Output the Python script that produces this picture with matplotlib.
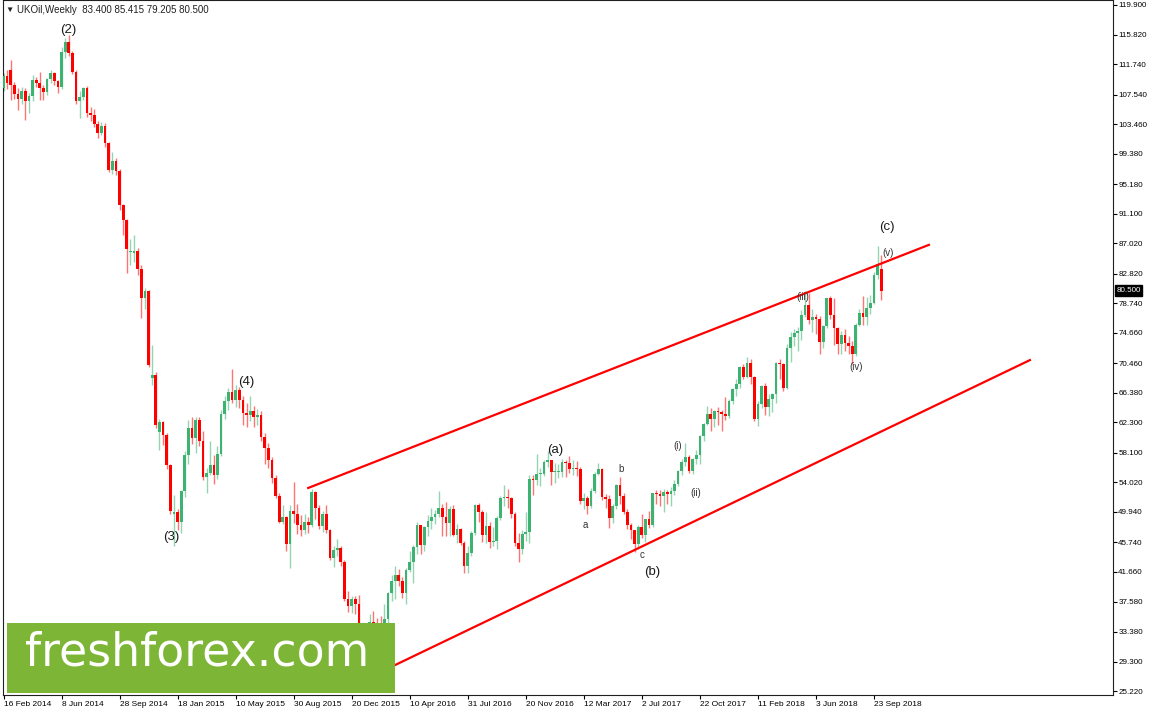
import pandas as pd
import matplotlib
matplotlib.use("Agg")
import matplotlib.pyplot as plt
from matplotlib.patches import Rectangle
from matplotlib.transforms import blended_transform_factory

# UKOil weekly candles, first bar = week of 16 Feb 2014
start_week = "2014-02-16"

opens = [
    108.4, 110.1, 110.9, 108.9, 107.6, 106.9, 108.1, 106.7, 107.3, 109.5,
    109.2, 108.5, 107.9, 109.7, 110.5, 109.4, 108.6, 113.4, 114.8, 113.3,
    110.6, 106.7, 107.2, 108.4, 105.0, 104.7, 103.5, 102.3, 103.2, 100.8,
    97.1, 98.4, 97.0, 92.3, 90.2, 85.8, 85.7, 86.0, 83.4, 79.4,
    80.4, 68.4, 68.9, 61.0, 62.3, 60.5, 56.4, 49.6, 50.0, 48.6,
    52.8, 57.8, 61.5, 60.2, 62.6, 59.7, 54.7, 55.3, 56.4, 55.0,
    57.9, 63.5, 65.3, 66.5, 65.4, 66.8, 65.4, 63.6, 63.3, 63.9,
    63.0, 63.3, 60.3, 58.7, 57.1, 54.6, 52.2, 48.6, 49.2, 45.5,
    50.1, 49.6, 48.1, 47.5, 48.6, 48.1, 52.7, 50.5, 48.0, 49.6,
    47.4, 43.6, 44.7, 44.9, 43.0, 37.9, 36.9, 37.9, 37.3, 33.6,
    28.9, 32.2, 34.7, 34.1, 33.4, 33.0, 35.1, 38.7, 40.4, 41.2,
    40.4, 38.7, 41.9, 43.1, 45.1, 48.1, 45.4, 47.8, 48.7, 49.3,
    49.6, 50.5, 49.2, 48.4, 50.4, 46.8, 47.6, 45.7, 42.5, 44.3,
    47.0, 50.9, 49.9, 46.8, 48.0, 45.8, 45.9, 49.1, 51.9, 52.0,
    51.8, 49.7, 45.6, 44.8, 46.9, 47.2, 54.5, 54.3, 55.2, 55.2,
    56.8, 57.1, 55.5, 55.5, 55.5, 56.8, 56.7, 55.8, 56.0, 55.9,
    51.4, 51.8, 50.8, 52.8, 55.2, 55.9, 52.0, 51.7, 49.1, 50.8,
    53.6, 52.2, 50.0, 48.2, 47.4, 45.5, 47.9, 46.7, 48.9, 48.1,
    52.5, 52.4, 52.1, 52.7, 52.4, 52.8, 53.8, 55.6, 56.9, 57.5,
    55.6, 57.2, 57.8, 60.4, 62.1, 63.5, 62.7, 63.9, 63.7, 63.4,
    63.2, 65.3, 66.9, 67.6, 69.9, 68.6, 70.5, 68.6, 62.8, 64.8,
    67.3, 64.4, 65.5, 66.2, 70.5, 70.3, 67.1, 72.6, 74.1, 74.6,
    74.9, 77.1, 78.5, 76.4, 76.8, 76.5, 73.4, 75.6, 79.4, 77.1,
    75.3, 73.1, 74.3, 73.2, 72.8, 71.8, 75.8, 77.4, 76.8, 78.1,
    78.8, 82.7, 83.4,
]

highs = [
    110.5, 110.9, 112.3, 109.3, 108.4, 108.6, 108.4, 107.8, 110.3, 110.0,
    110.6, 108.9, 109.8, 110.9, 110.6, 109.5, 114.1, 115.3, 115.8, 113.5,
    110.9, 108.0, 108.6, 108.7, 105.8, 105.5, 103.9, 103.7, 103.6, 101.0,
    99.6, 98.8, 97.3, 92.5, 90.4, 87.6, 88.1, 86.3, 84.0, 80.9,
    80.6, 73.0, 69.2, 62.8, 62.5, 60.8, 56.6, 52.3, 50.4, 53.0,
    58.3, 62.6, 63.0, 63.0, 63.0, 61.1, 56.0, 59.7, 57.8, 59.0,
    64.0, 65.9, 67.1, 69.6, 67.5, 67.2, 65.9, 65.0, 66.0, 64.5,
    64.2, 63.9, 60.8, 59.5, 57.5, 55.0, 52.5, 50.9, 49.4, 50.9,
    54.1, 51.0, 49.5, 49.6, 49.3, 53.1, 52.9, 50.9, 50.1, 50.9,
    47.6, 45.2, 46.2, 45.3, 43.3, 39.0, 38.4, 38.3, 38.5, 33.8,
    32.3, 35.8, 36.3, 35.3, 35.6, 37.2, 38.9, 41.2, 42.5, 42.0,
    41.0, 42.2, 44.6, 45.4, 48.5, 48.2, 48.0, 49.5, 50.5, 50.2,
    52.9, 51.0, 51.3, 50.7, 50.9, 48.3, 47.7, 46.0, 45.2, 47.3,
    51.0, 51.2, 50.2, 49.9, 48.5, 47.8, 49.4, 52.1, 53.7, 53.1,
    52.0, 50.0, 47.0, 47.4, 49.9, 55.0, 55.1, 57.9, 56.0, 57.1,
    58.4, 57.1, 56.7, 56.5, 57.2, 57.1, 57.7, 57.1, 57.0, 56.1,
    52.6, 52.1, 53.3, 55.5, 56.7, 56.0, 52.4, 52.3, 51.0, 53.8,
    54.7, 52.6, 50.4, 48.4, 47.5, 48.2, 49.7, 49.0, 50.1, 52.6,
    53.0, 53.0, 53.1, 53.0, 53.4, 54.4, 55.7, 57.3, 59.5, 57.8,
    57.4, 58.5, 60.5, 62.2, 64.6, 64.3, 64.0, 64.4, 64.0, 65.8,
    65.5, 67.1, 68.3, 70.1, 70.4, 71.3, 71.0, 68.7, 65.2, 67.5,
    67.7, 66.2, 66.4, 70.6, 71.0, 70.5, 73.1, 74.8, 75.2, 75.5,
    77.8, 80.5, 80.2, 77.9, 77.3, 77.0, 75.8, 79.5, 79.7, 79.4,
    75.4, 74.9, 75.2, 74.2, 73.5, 76.0, 78.0, 79.7, 79.6, 79.9,
    83.0, 86.7, 85.415,
]

lows = [
    108.0, 108.3, 106.8, 106.9, 105.4, 106.2, 104.0, 105.0, 106.6, 108.6,
    106.8, 106.8, 107.5, 109.2, 108.8, 107.8, 108.3, 112.6, 112.9, 110.4,
    106.2, 104.3, 106.8, 104.5, 103.9, 103.0, 101.5, 101.9, 100.3, 96.9,
    96.6, 96.5, 91.6, 88.2, 82.9, 84.0, 84.5, 82.6, 76.7, 78.0,
    69.9, 67.5, 61.5, 58.5, 59.2, 55.8, 49.7, 45.2, 47.4, 47.0,
    52.0, 56.5, 59.3, 58.1, 59.0, 54.4, 52.5, 55.0, 53.8, 54.5,
    57.6, 62.8, 64.0, 65.0, 64.4, 64.3, 61.9, 61.6, 62.5, 61.6,
    62.0, 59.8, 56.5, 56.0, 54.0, 51.9, 48.4, 48.3, 44.5, 42.2,
    48.4, 46.9, 46.6, 46.9, 47.1, 47.9, 48.9, 47.6, 47.2, 47.1,
    43.3, 42.4, 43.9, 42.5, 37.6, 36.2, 36.0, 35.9, 32.2, 28.8,
    27.1, 30.4, 32.0, 30.0, 31.6, 32.1, 34.6, 37.6, 37.9, 39.7,
    38.1, 37.2, 41.6, 40.1, 44.2, 44.1, 44.6, 46.6, 47.6, 48.3,
    49.2, 46.6, 46.6, 46.6, 46.6, 45.6, 45.4, 41.5, 41.5, 43.8,
    46.7, 48.5, 45.8, 45.6, 45.0, 45.2, 44.8, 48.8, 50.8, 50.5,
    49.1, 45.2, 43.0, 44.2, 45.9, 45.6, 52.3, 53.6, 53.5, 54.9,
    56.1, 53.6, 54.0, 54.6, 54.8, 54.7, 55.3, 55.1, 54.9, 51.1,
    50.3, 49.7, 50.5, 52.6, 55.0, 51.6, 50.5, 47.7, 48.4, 50.4,
    51.0, 49.6, 47.6, 46.2, 44.4, 44.8, 46.3, 45.8, 47.7, 47.9,
    51.1, 50.8, 49.9, 51.0, 50.7, 52.3, 53.5, 55.1, 56.3, 55.3,
    55.2, 56.5, 56.5, 59.8, 61.9, 61.1, 61.6, 61.9, 61.1, 62.6,
    62.9, 64.8, 65.9, 67.0, 68.3, 68.4, 67.6, 62.5, 61.8, 64.3,
    63.3, 63.2, 63.8, 65.0, 68.3, 66.6, 66.9, 70.7, 72.8, 72.2,
    73.7, 76.8, 75.9, 74.8, 74.5, 71.8, 72.5, 75.3, 76.6, 73.0,
    71.8, 71.8, 72.2, 71.7, 70.3, 71.4, 75.6, 75.8, 75.8, 77.3,
    78.6, 82.1, 79.205,
]

closes = [
    110.1, 109.1, 108.9, 107.6, 106.9, 108.1, 106.7, 107.3, 109.5, 109.2,
    108.5, 107.9, 109.7, 110.5, 109.4, 108.6, 113.4, 114.8, 113.3, 110.6,
    106.7, 107.2, 108.4, 105.0, 104.7, 103.5, 102.3, 103.2, 100.8, 97.1,
    98.4, 97.0, 92.3, 90.2, 86.2, 86.0, 86.0, 83.4, 79.4, 80.4,
    70.2, 68.9, 61.9, 62.3, 60.5, 56.4, 50.1, 50.0, 48.6, 52.8,
    57.8, 61.5, 60.2, 62.6, 59.7, 54.7, 55.3, 56.4, 55.0, 57.9,
    63.5, 65.3, 66.5, 65.4, 66.8, 65.4, 63.6, 63.3, 63.9, 63.0,
    63.3, 60.3, 58.7, 57.1, 54.6, 52.2, 48.6, 49.2, 45.5, 50.1,
    49.6, 48.1, 47.5, 48.6, 48.1, 52.7, 50.5, 48.0, 49.6, 47.4,
    43.6, 44.7, 44.9, 43.0, 37.9, 36.9, 37.9, 37.3, 33.6, 28.9,
    32.2, 34.7, 34.1, 33.4, 33.0, 35.1, 38.7, 40.4, 41.2, 40.4,
    38.7, 41.9, 43.1, 45.1, 48.1, 45.4, 47.8, 48.7, 49.3, 49.6,
    50.5, 49.2, 48.4, 50.4, 46.8, 47.6, 45.7, 42.5, 44.3, 47.0,
    50.9, 49.9, 46.8, 48.0, 45.8, 45.9, 49.1, 51.9, 52.0, 51.8,
    49.7, 45.6, 44.8, 46.9, 47.2, 54.5, 54.3, 55.2, 55.2, 56.8,
    57.1, 55.5, 55.5, 55.5, 56.8, 56.7, 55.8, 56.0, 55.9, 51.4,
    51.8, 50.8, 52.8, 55.2, 55.9, 52.0, 51.7, 49.1, 50.8, 53.6,
    52.2, 50.0, 48.2, 47.4, 45.5, 47.9, 46.7, 48.9, 48.1, 52.5,
    52.4, 52.1, 52.7, 52.4, 52.8, 53.8, 55.6, 56.9, 57.5, 55.6,
    57.2, 57.8, 60.4, 62.1, 63.5, 62.7, 63.9, 63.7, 63.4, 63.2,
    65.3, 66.9, 67.6, 69.9, 68.6, 70.5, 68.6, 62.8, 64.8, 67.3,
    64.4, 65.5, 66.2, 70.5, 70.3, 67.1, 72.6, 74.1, 74.6, 74.9,
    77.1, 78.5, 76.4, 76.8, 76.5, 73.4, 75.6, 79.4, 77.1, 75.3,
    73.1, 74.3, 73.2, 72.8, 71.8, 75.8, 77.4, 76.8, 78.1, 78.8,
    82.7, 84.2, 80.5,
]

price_ticks = [119.900, 115.820, 111.740, 107.540, 103.460, 99.380, 95.180,
               91.100, 87.020, 82.820, 78.740, 74.660, 70.460, 66.380,
               62.300, 58.100, 54.020, 49.940, 45.740, 41.660, 37.580,
               33.380, 29.300, 25.220]
date_tick_step = 16

# trendlines (anchor date, price)
upper_dates = ["2015-09-27", "2019-01-07"]
upper_prices = [53.25, 86.8]
lower_dates = ["2016-01-17", "2019-07-21"]
lower_prices = [26.9, 70.9]

# Elliott wave labels: text, bar position, price, big label?
wave_text = ["(2)", "(3)", "(4)", "(a)", "a", "b", "c", "(b)",
             "(i)", "(ii)", "(iii)", "(iv)", "(v)", "(c)"]
wave_bar = [17.8, 46.2, 66.9, 152.1, 160.3, 170.2, 176.0, 178.8,
            186.0, 190.9, 220.4, 235.0, 243.9, 243.6]
wave_price = [116.4, 46.5, 67.9, 58.5, 48.1, 55.9, 44.0, 41.7,
              59.0, 52.6, 79.6, 69.9, 85.7, 89.3]
wave_big = [True, True, True, True, False, False, False, True,
            False, False, False, False, False, True]

header = "UKOil,Weekly  83.400 85.415 79.205 80.500"
last_price = 80.5

plt.rcParams["font.family"] = ["Liberation Sans", "DejaVu Sans"]

weeks = pd.date_range(start_week, periods=len(closes), freq="7D")
bars = list(range(len(closes)))
t0 = pd.Timestamp(start_week)


def to_bar(d):
    return (pd.Timestamp(d) - t0).days / 7.0


fig = plt.figure(figsize=(11.49, 7.15), dpi=100)
ax = fig.add_axes([3 / 1149, 20 / 715, 1110 / 1149, 695 / 715])

# candles
colors = ["#3cb371" if c >= o else "#ff0000" for o, c in zip(opens, closes)]
ax.vlines(bars, lows, highs, colors=colors, linewidth=1.0, alpha=0.55, zorder=2)
bottoms = [min(o, c) for o, c in zip(opens, closes)]
heights = [max(abs(c - o), 0.15) for o, c in zip(opens, closes)]
ax.bar(bars, heights, bottom=bottoms, width=0.75, color=colors, linewidth=0, zorder=3)

# channel lines
ax.plot([to_bar(d) for d in upper_dates], upper_prices, color="#ff0000", lw=1.6, zorder=4)
ax.plot([to_bar(d) for d in lower_dates], lower_prices, color="#ff0000", lw=1.6, zorder=4)

# wave labels
for txt, b, p, big in zip(wave_text, wave_bar, wave_price, wave_big):
    ax.text(b, p, txt, ha="center", va="center", fontsize=9.5 if big else 7,
            color="#1a1a1a" if big else "#333333", zorder=6)

ax.set_xlim(-0.14, 305.9)
ax.set_ylim(24.68, 120.59)

# axes like MT4
ax.yaxis.tick_right()
ax.set_yticks(price_ticks)
ax.set_yticklabels([f"{v:.3f}" for v in price_ticks])
ax.tick_params(axis="y", length=3, pad=0.8, labelsize=5.8, width=0.8)
xt = bars[::date_tick_step]
ax.set_xticks(xt)
ax.set_xticklabels([f"{weeks[i].day} {weeks[i].strftime('%b %Y')}" for i in xt])
for lbl in ax.get_xticklabels():
    lbl.set_ha("left")
ax.tick_params(axis="x", length=3, pad=1.5, labelsize=6, width=0.8)
for s in ax.spines.values():
    s.set_linewidth(0.8)
    s.set_color("#202020")

# current price marker
trans = blended_transform_factory(ax.transAxes, ax.transData)
ax.text(1.003, last_price, f"{last_price:.3f}", transform=trans, fontsize=5.8, color="white",
        ha="left", va="center", clip_on=False, zorder=10,
        bbox=dict(boxstyle="square,pad=0.2", fc="black", ec="black"))

# header
fig.text(5 / 1149, 1 - 10 / 715, "\u25bc", fontsize=6, va="center", color="#202020")
fig.text(17 / 1149, 1 - 10 / 715, header, fontsize=7, va="center", color="#202020")

# watermark
wm = Rectangle((7 / 1149, 22 / 715), 388 / 1149, 70 / 715, transform=fig.transFigure,
               facecolor="#7db536", edgecolor="none", zorder=20)
fig.add_artist(wm)
fig.text(25 / 1149, (715 - 666) / 715, "freshforex.com", color="white", fontsize=33,
         family=["DejaVu Sans"], va="baseline", ha="left", zorder=21)

fig.savefig("out.png", dpi=100, facecolor="white")
